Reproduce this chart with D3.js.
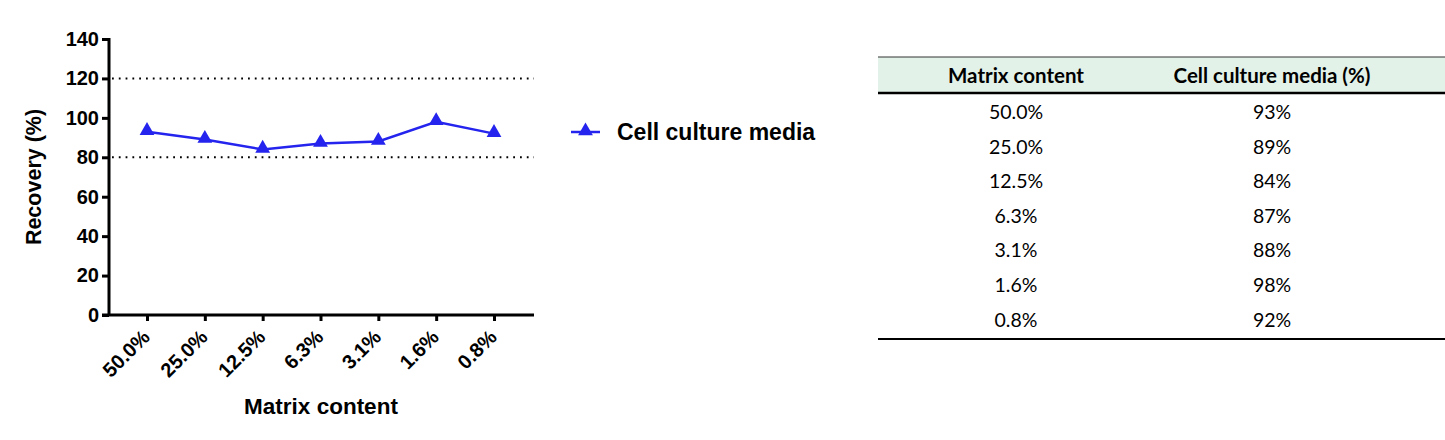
<!DOCTYPE html>
<html>
<head>
<meta charset="utf-8">
<script src="https://cdn.jsdelivr.net/npm/d3@7"></script>
<style>
  body { margin: 0; background: #fff; }
  svg { display: block; }
</style>
</head>
<body>
<div class="chart"></div>
<script>
var categories  = ["50.0%", "25.0%", "12.5%", "6.3%", "3.1%", "1.6%", "0.8%"];
var recovery    = [93, 89, 84, 87, 88, 98, 92];
var yTicks      = [0, 20, 40, 60, 80, 100, 120, 140];
var limits      = [80, 120];
var seriesName  = "Cell culture media";
var tableHeader = ["Matrix content", "Cell culture media (%)"];
var tableValues = ["93%", "89%", "84%", "87%", "88%", "98%", "92%"];

var blue = "#2424ee";
var chartFont = "Liberation Sans, Arial, sans-serif";
var tableFont = "Lato, sans-serif";

var svg = d3.select(".chart")
    .append("svg")
    .attr("width", 1445)
    .attr("height", 440);

// plot area
var x = d3.scalePoint()
    .domain(categories)
    .range([147, 494]);

var y = d3.scaleLinear()
    .domain([0, 140])
    .range([315, 39]);

var yAxis = svg.append("g")
    .attr("transform", "translate(109,0)")
    .call(d3.axisLeft(y).tickValues(yTicks).tickSize(7).tickSizeOuter(0));

var xAxis = svg.append("g")
    .attr("transform", "translate(0,315)")
    .call(d3.axisBottom(x).tickSize(6).tickSizeOuter(0));

// axis lines span past the ticks like the original
yAxis.select(".domain").attr("d", "M0,316V38");
xAxis.select(".domain").attr("d", "M102,0H534");

svg.selectAll(".domain, .tick line")
    .attr("stroke", "#000")
    .attr("stroke-width", 3);

yAxis.selectAll("text")
    .attr("x", -10)
    .style("font-family", chartFont)
    .style("font-weight", "bold")
    .style("font-size", "20px")
    .attr("fill", "#000");

xAxis.selectAll("text")
    .attr("transform", "rotate(-45)")
    .attr("text-anchor", "end")
    .attr("x", -14)
    .attr("y", 12)
    .attr("dy", "0.35em")
    .style("font-family", chartFont)
    .style("font-weight", "bold")
    .style("font-size", "20px")
    .attr("fill", "#000");

// dotted limit lines
svg.selectAll(".limit")
    .data(limits)
    .enter()
    .append("line")
    .attr("class", "limit")
    .attr("x1", 112)
    .attr("x2", 534)
    .attr("y1", function (d) { return y(d); })
    .attr("y2", function (d) { return y(d); })
    .attr("stroke", "#000")
    .attr("stroke-width", 2)
    .attr("stroke-dasharray", "1.8,5");

// series
var line = d3.line()
    .x(function (d, i) { return x(categories[i]); })
    .y(function (d) { return y(d); });

svg.append("path")
    .datum(recovery)
    .attr("d", line)
    .attr("fill", "none")
    .attr("stroke", blue)
    .attr("stroke-width", 2.5);

var tri = d3.symbol().type(d3.symbolTriangle).size(95);

svg.selectAll(".pt")
    .data(recovery)
    .enter()
    .append("path")
    .attr("class", "pt")
    .attr("d", tri)
    .attr("transform", function (d, i) { return "translate(" + x(categories[i]) + "," + (y(d) - 1) + ")"; })
    .attr("fill", blue);

// axis titles
svg.append("text")
    .attr("x", 321)
    .attr("y", 414)
    .attr("text-anchor", "middle")
    .style("font-family", chartFont)
    .style("font-weight", "bold")
    .style("font-size", "22.5px")
    .text("Matrix content");

svg.append("text")
    .attr("transform", "translate(41,177) rotate(-90)")
    .attr("text-anchor", "middle")
    .style("font-family", chartFont)
    .style("font-weight", "bold")
    .style("font-size", "21.5px")
    .text("Recovery (%)");

// legend
var legend = svg.append("g").attr("transform", "translate(571,132)");
legend.append("line")
    .attr("x1", 0).attr("x2", 29)
    .attr("stroke", blue).attr("stroke-width", 2.5);
legend.append("path")
    .attr("d", tri)
    .attr("transform", "translate(14.5,-1)")
    .attr("fill", blue);
legend.append("text")
    .attr("x", 46)
    .attr("y", 8)
    .style("font-family", chartFont)
    .style("font-weight", "bold")
    .style("font-size", "23px")
    .text(seriesName);

// table
var tableLeft = 878, tableRight = 1445;
var colX = [1016, 1272];
var row = d3.scaleBand()
    .domain(categories)
    .range([95, 337]);

var table = svg.append("g");
table.append("rect")
    .attr("x", tableLeft)
    .attr("y", 57)
    .attr("width", tableRight - tableLeft)
    .attr("height", 36)
    .attr("fill", "#e3f2e9");
table.append("line")
    .attr("x1", tableLeft).attr("x2", tableRight)
    .attr("y1", 57).attr("y2", 57)
    .attr("stroke", "#333").attr("stroke-width", 1);
table.append("line")
    .attr("x1", tableLeft).attr("x2", tableRight)
    .attr("y1", 93).attr("y2", 93)
    .attr("stroke", "#000").attr("stroke-width", 2.5);
table.append("line")
    .attr("x1", tableLeft).attr("x2", tableRight)
    .attr("y1", 339).attr("y2", 339)
    .attr("stroke", "#000").attr("stroke-width", 2);

table.selectAll(".th")
    .data(tableHeader)
    .enter()
    .append("text")
    .attr("class", "th")
    .attr("x", function (d, i) { return colX[i]; })
    .attr("y", 83)
    .attr("text-anchor", "middle")
    .style("font-family", tableFont)
    .style("font-weight", "bold")
    .style("font-size", "20.5px")
    .text(function (d) { return d; });

var rows = table.selectAll(".tr")
    .data(categories)
    .enter()
    .append("g")
    .attr("class", "tr")
    .attr("transform", function (d) { return "translate(0," + (row(d) + row.bandwidth() / 2) + ")"; });

rows.append("text")
    .attr("x", colX[0])
    .attr("dy", "0.35em")
    .attr("text-anchor", "middle")
    .style("font-family", tableFont)
    .style("font-size", "19.5px")
    .text(function (d) { return d; });

rows.append("text")
    .attr("x", colX[1])
    .attr("dy", "0.35em")
    .attr("text-anchor", "middle")
    .style("font-family", tableFont)
    .style("font-size", "19.5px")
    .text(function (d, i) { return tableValues[i]; });
</script>
</body>
</html>
